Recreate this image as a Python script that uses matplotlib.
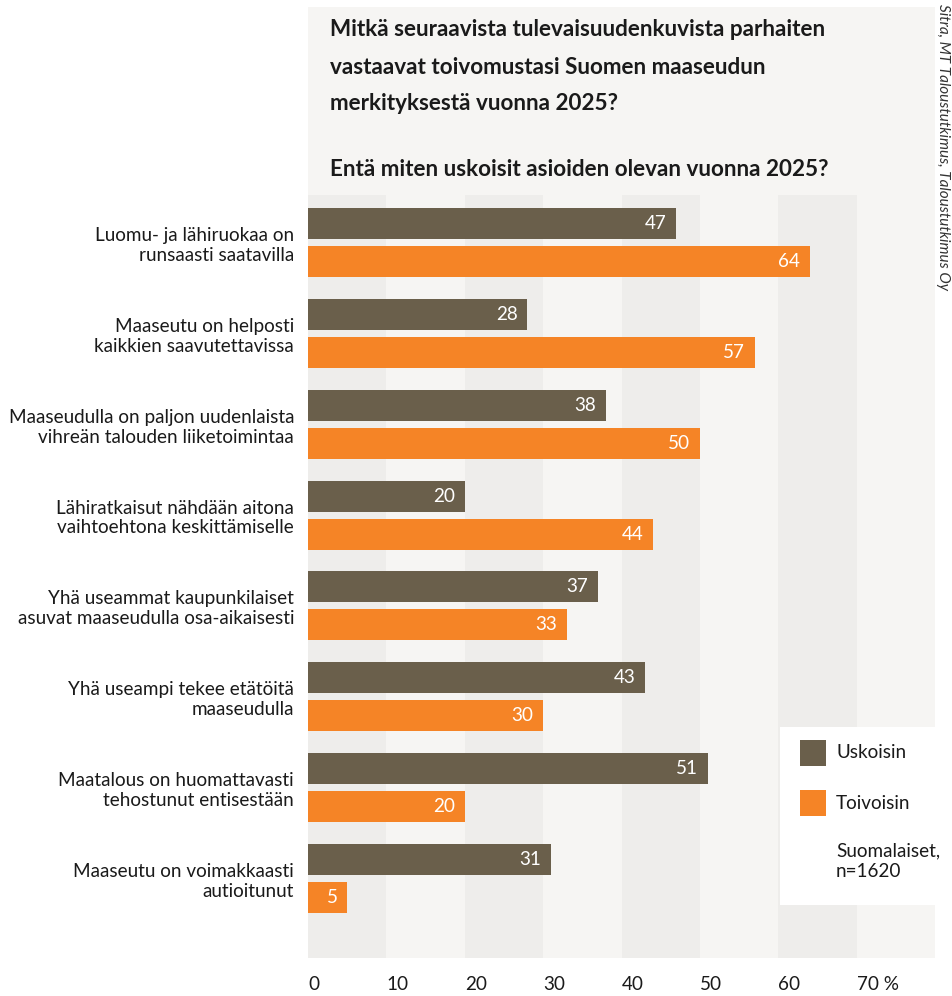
import matplotlib
matplotlib.use("Agg")
import matplotlib.pyplot as plt
from matplotlib.patches import Rectangle

# ---------------- data ----------------
categories = [
    "Luomu- ja lähiruokaa on\nrunsaasti saatavilla",
    "Maaseutu on helposti\nkaikkien saavutettavissa",
    "Maaseudulla on paljon uudenlaista\nvihreän talouden liiketoimintaa",
    "Lähiratkaisut nähdään aitona\nvaihtoehtona keskittämiselle",
    "Yhä useammat kaupunkilaiset\nasuvat maaseudulla osa-aikaisesti",
    "Yhä useampi tekee etätöitä\nmaaseudulla",
    "Maatalous on huomattavasti\ntehostunut entisestään",
    "Maaseutu on voimakkaasti\nautioitunut",
]
uskoisin = [47, 28, 38, 20, 37, 43, 51, 31]
toivoisin = [64, 57, 50, 44, 33, 30, 20, 5]
series_names = ["Uskoisin", "Toivoisin"]
xticks = [0, 10, 20, 30, 40, 50, 60, 70]
xtick_labels = ["0", "10", "20", "30", "40", "50", "60", "70 %"]
title_lines = ["Mitkä seuraavista tulevaisuudenkuvista parhaiten",
               "vastaavat toivomustasi Suomen maaseudun",
               "merkityksestä vuonna 2025?"]
subtitle = "Entä miten uskoisit asioiden olevan vuonna 2025?"
note = "Suomalaiset,\nn=1620"
source = "Sitra, MT Taloustutkimus, Taloustutkimus Oy"

# ---------------- style ----------------
W, H = 952, 996
DARK = "#6a5f4b"
ORANGE = "#f58426"
STRIPE_D = "#eeedeb"
STRIPE_L = "#f6f5f3"
TXT = "#1a1a1a"
FONT = ["Lato", "DejaVu Sans"]
plt.rcParams["font.family"] = FONT
FS = 13.6

fig = plt.figure(figsize=(W / 100, H / 100), dpi=100)
fig.patch.set_facecolor("white")

def fx(x):
    return x / W

def fy(y):
    return 1 - y / H

# panel behind title
ax_left, ax_right, ax_top, ax_bot = 308, 935, 195, 958
fig.patches.append(Rectangle((fx(ax_left), fy(ax_top)), fx(ax_right - ax_left),
                             (ax_top - 7) / H, transform=fig.transFigure,
                             facecolor=STRIPE_L, edgecolor="none", zorder=0))

ax = fig.add_axes([fx(ax_left), fy(ax_bot), fx(ax_right - ax_left), (ax_bot - ax_top) / H])
ax.set_facecolor(STRIPE_L)
ax.set_xlim(0, 80)
ax.set_ylim(7.875, -0.523)

for i in range(0, 80, 20):
    ax.axvspan(i, i + 10, color=STRIPE_D, lw=0, zorder=0)

n = len(categories)
off = 0.209
bh = 0.341
ys = list(range(n))
yd = [y - off for y in ys]
yo = [y + off for y in ys]
ax.barh(yd, uskoisin, height=bh, color=DARK, zorder=2)
ax.barh(yo, toivoisin, height=bh, color=ORANGE, zorder=2)

for y, v in zip(yd, uskoisin):
    ax.annotate(str(v), (v, y), xytext=(-7, 0), textcoords="offset points",
                ha="right", va="center", color="white", fontsize=FS, zorder=3)
for y, v in zip(yo, toivoisin):
    ax.annotate(str(v), (v, y), xytext=(-7, 0), textcoords="offset points",
                ha="right", va="center", color="white", fontsize=FS, zorder=3)

for s in ax.spines.values():
    s.set_visible(False)

ax.set_yticks(ys)
ax.set_yticklabels(categories, fontsize=FS, color=TXT, linespacing=1.2)
ax.tick_params(axis="y", length=0, pad=10)

ax.set_xticks(xticks)
ax.set_xticklabels(xtick_labels, fontsize=FS, color=TXT)
for lab in ax.get_xticklabels():
    lab.set_horizontalalignment("left")
ax.tick_params(axis="x", length=0, pad=13)

# title
for k, line in enumerate(title_lines):
    fig.text(fx(330), fy(30 + k * 37), line, fontsize=16.2, fontweight="bold",
             color=TXT, ha="left", va="center")
fig.text(fx(330), fy(170), subtitle, fontsize=16.2, fontweight="bold",
         color=TXT, ha="left", va="center")

# legend box
fig.patches.append(Rectangle((fx(780), fy(905)), fx(935 - 780), (905 - 727) / H,
                             transform=fig.transFigure, facecolor="white",
                             edgecolor="none", zorder=5))
for (name, col, yc) in [(series_names[0], DARK, 753), (series_names[1], ORANGE, 803)]:
    fig.patches.append(Rectangle((fx(800), fy(yc + 13)), fx(26), 26 / H,
                                 transform=fig.transFigure, facecolor=col,
                                 edgecolor="none", zorder=6))
    fig.text(fx(836), fy(yc), name, fontsize=FS, color=TXT, ha="left",
             va="center", zorder=7)
fig.text(fx(836), fy(861), note, fontsize=FS, color=TXT, ha="left",
         va="center", linespacing=1.3, zorder=7)

# source (rotated)
fig.text(fx(943), fy(290), source, fontsize=11, style="italic", color="#333333",
         rotation=270, rotation_mode="anchor", ha="right", va="center")

fig.savefig("out.png", dpi=100)
